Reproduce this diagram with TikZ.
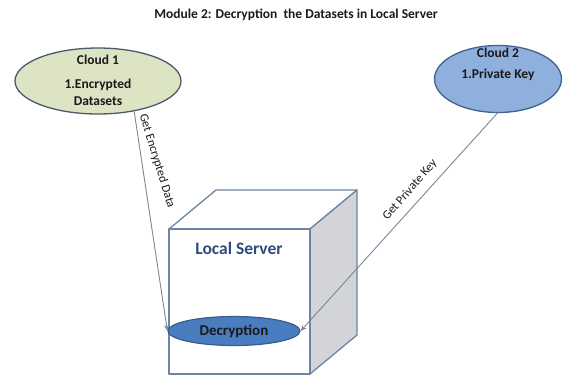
\documentclass[tikz,border=0pt]{standalone}
\usepackage{fontspec}
\setmainfont{Carlito}
\usetikzlibrary{shapes.geometric,arrows.meta}
\definecolor{cloudA}{HTML}{DDE4C4}
\definecolor{cloudAedge}{HTML}{4A5A6A}
\definecolor{cloudB}{HTML}{8FB0DC}
\definecolor{cloudBedge}{HTML}{41618F}
\definecolor{decfill}{HTML}{4A7CC0}
\definecolor{decedge}{HTML}{385D8A}
\definecolor{cubeedge}{HTML}{6D84A3}
\definecolor{cubeside}{HTML}{D3D4D8}
\definecolor{arrowcol}{HTML}{7A8699}
\definecolor{lstext}{HTML}{2E4D7B}
\definecolor{txt}{HTML}{1A1A1A}
\tikzset{
  cloudnode/.style={ellipse, draw, line width=1.3pt, inner sep=0pt, align=center},
  cloudtext/.style={align=center, inner sep=0pt, font=\fontsize{13.5}{17}\selectfont\bfseries, text=txt},
  conn/.style={draw=arrowcol, line width=0.9pt, -{Stealth[length=6pt,width=5pt]}},
  lbl/.style={font=\fontsize{12.3}{14}\selectfont, text=txt, inner sep=1pt},
  cubeline/.style={draw=cubeedge, line width=1.3pt, line join=round}
}
\begin{document}
\begin{tikzpicture}[x=1pt,y=-1pt]
\useasboundingbox (0,0) rectangle (566,376);
% title
\node[font=\fontsize{13.5}{15}\selectfont\bfseries, text=txt] (title) at (296,15)
  {Module 2: Decryption\ \ the Datasets in Local Server};
% clouds
\node[cloudnode, fill=cloudA, draw=cloudAedge, minimum width=166pt, minimum height=66pt] (c1) at (98,81) {};
\node[cloudtext] (c1t) at (98,80) {Cloud 1\\[7pt]1.Encrypted\\Datasets};
\node[cloudnode, fill=cloudB, draw=cloudBedge, minimum width=127pt, minimum height=67pt] (c2) at (498,79) {};
\node[cloudtext] (c2t) at (498,64) {Cloud 2\\[4pt]1.Private Key};
% cube
\coordinate (fa) at (169,229);
\coordinate (fb) at (310,229);
\coordinate (fc) at (310,374);
\coordinate (fd) at (169,374);
\coordinate (ba) at (216,190);
\coordinate (bb) at (357,190);
\coordinate (bc) at (357,335);
\path[cubeline, fill=white] (fa) -- (ba) -- (bb) -- (fb) -- cycle;
\path[cubeline, fill=cubeside] (fb) -- (bb) -- (bc) -- (fc) -- cycle;
\path[cubeline, fill=white] (fa) -- (fb) -- (fc) -- (fd) -- cycle;
\node[font=\fontsize{17.5}{20}\selectfont\bfseries, text=lstext] (ls) at (239,248) {Local Server};
% decryption
\node[ellipse, draw=decedge, line width=1.2pt, fill=decfill, inner sep=0pt,
  minimum width=132pt, minimum height=29pt, font=\fontsize{15}{17}\selectfont\bfseries, text=txt]
  (dec) at (234,331) {Decryption};
% connectors
\draw[conn] (c1.-40) -- (dec.west);
\draw[conn] (c2.-91) -- (dec.east);
\node[lbl, rotate=-73] (l1) at (157,161) {Get Encrypted Data};
\node[lbl, rotate=49] (l2) at (410,190) {Get Private Key};
\end{tikzpicture}
\end{document}
